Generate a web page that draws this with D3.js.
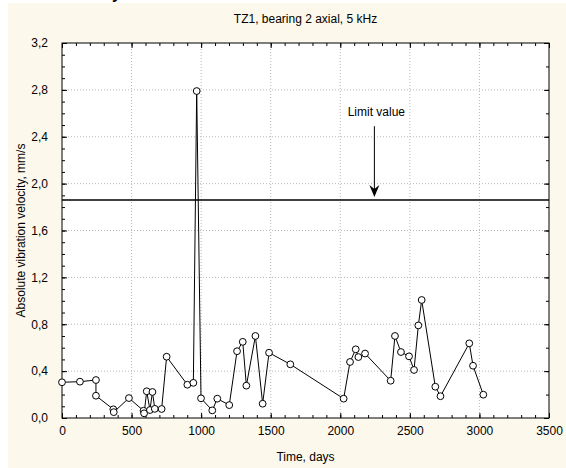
<!DOCTYPE html>
<html lang="en">
<head>
<meta charset="UTF-8">
<title>TZ1, bearing 2 axial, 5 kHz</title>
<script src="https://d3js.org/d3.v7.min.js"></script>
<style>
    body { margin: 0; background: #fff; }
    text { font-family: "Liberation Sans", Arial, sans-serif; fill: #000; }
    .tick text { font-size: 12px; }
    .axis path { display: none; }
    .axis line { stroke: #000; }
    .grid { stroke: #b8b8b8; stroke-dasharray: 1,2; }
</style>
</head>
<body>
<div id="chart"></div>
<script>
    // measured values (days, mm/s) in drawing order
    const days = [0, 129, 244, 244, 369, 372, 481, 586, 590, 609, 632, 650, 667, 716, 752,
                  901, 944, 968, 999, 1080, 1116, 1202, 1258, 1299, 1325, 1390, 1442, 1488,
                  1641, 2024, 2070, 2111, 2130, 2178, 2362, 2393, 2436, 2494, 2530, 2561,
                  2585, 2683, 2720, 2927, 2954, 3028];
    const velocity = [0.305, 0.31, 0.324, 0.19, 0.074, 0.05, 0.17, 0.062, 0.04, 0.228, 0.068,
                      0.222, 0.078, 0.077, 0.523, 0.284, 0.30, 2.79, 0.168, 0.065, 0.165, 0.11,
                      0.57, 0.65, 0.276, 0.70, 0.122, 0.557, 0.458, 0.165, 0.478, 0.586, 0.52,
                      0.55, 0.318, 0.70, 0.563, 0.526, 0.41, 0.79, 1.007, 0.267, 0.186, 0.637,
                      0.446, 0.199];
    const limitValue = 1.86;
    const limitArrowDay = 2245;
    const limitArrowTop = 2.49;
    const limitLabel = "Limit value";
    const xTicks = [0, 500, 1000, 1500, 2000, 2500, 3000, 3500];
    const yTicks = [0, 0.4, 0.8, 1.2, 1.6, 2.0, 2.4, 2.8, 3.2];

    const W = 566, H = 468;
    const m = { left: 62, right: 549, top: 43, bottom: 418 };

    const svg = d3.select("#chart").append("svg")
        .attr("width", W).attr("height", H);

    // cream page background
    svg.append("rect").attr("x", 8).attr("y", 3)
        .attr("width", W - 8).attr("height", H - 3).attr("fill", "#fdf8ec");
    // descender of cropped heading text above
    svg.append("text").attr("x", 112).attr("y", -1)
        .style("font-size", "16px").style("font-weight", "bold").text("y");

    const x = d3.scaleLinear().domain([0, 3500]).range([m.left, m.right]);
    const y = d3.scaleLinear().domain([0, 3.2]).range([m.bottom, m.top]);
    const fmt = d => d3.format(".1f")(d).replace(".", ",");

    svg.append("rect").attr("x", m.left).attr("y", m.top)
        .attr("width", m.right - m.left).attr("height", m.bottom - m.top).attr("fill", "#fff");

    // grid
    svg.append("g").selectAll("line").data(xTicks.slice(1, -1)).join("line")
        .attr("class", "grid").attr("x1", d => x(d)).attr("x2", d => x(d))
        .attr("y1", m.top).attr("y2", m.bottom);
    svg.append("g").selectAll("line").data(yTicks.slice(1, -1)).join("line")
        .attr("class", "grid").attr("y1", d => y(d)).attr("y2", d => y(d))
        .attr("x1", m.left).attr("x2", m.right);

    const minorX = d3.range(0, 3501, 100);
    const minorYLeft = d3.range(0, 33).map(i => i / 10);
    const minorYRight = d3.range(0, 17).map(i => i / 5);

    // bottom
    svg.append("g").attr("class", "axis").attr("transform", `translate(0,${m.bottom})`)
        .call(d3.axisBottom(x).tickValues(minorX).tickSize(-3).tickFormat(""));
    svg.append("g").attr("class", "axis").attr("transform", `translate(0,${m.bottom})`)
        .call(d3.axisBottom(x).tickValues(xTicks).tickSize(-5).tickPadding(8).tickFormat(d3.format("d")));
    // top
    svg.append("g").attr("class", "axis").attr("transform", `translate(0,${m.top})`)
        .call(d3.axisTop(x).tickValues(minorX).tickSize(-3).tickFormat(""));
    svg.append("g").attr("class", "axis").attr("transform", `translate(0,${m.top})`)
        .call(d3.axisTop(x).tickValues(xTicks).tickSize(-5).tickFormat(""));
    // left
    svg.append("g").attr("class", "axis").attr("transform", `translate(${m.left},0)`)
        .call(d3.axisLeft(y).tickValues(minorYLeft).tickSize(-3).tickFormat(""));
    svg.append("g").attr("class", "axis").attr("transform", `translate(${m.left},0)`)
        .call(d3.axisLeft(y).tickValues(yTicks).tickSize(-5).tickPadding(14).tickFormat(fmt));
    // right
    svg.append("g").attr("class", "axis").attr("transform", `translate(${m.right},0)`)
        .call(d3.axisRight(y).tickValues(minorYRight).tickSize(-3).tickFormat(""));
    svg.append("g").attr("class", "axis").attr("transform", `translate(${m.right},0)`)
        .call(d3.axisRight(y).tickValues(yTicks).tickSize(-5).tickFormat(""));

    svg.append("rect").attr("x", m.left).attr("y", m.top)
        .attr("width", m.right - m.left).attr("height", m.bottom - m.top)
        .attr("fill", "none").attr("stroke", "#000");

    // limit line and arrow
    svg.append("line").attr("x1", m.left).attr("x2", m.right)
        .attr("y1", y(limitValue)).attr("y2", y(limitValue))
        .attr("stroke", "#000").attr("stroke-width", 1.6);
    const ax = x(limitArrowDay), tip = y(limitValue) - 3;
    svg.append("line").attr("x1", ax).attr("x2", ax)
        .attr("y1", y(limitArrowTop)).attr("y2", tip - 6)
        .attr("stroke", "#000");
    svg.append("path")
        .attr("d", `M${ax},${tip} L${ax - 5},${tip - 12} L${ax},${tip - 8} L${ax + 5},${tip - 12} Z`)
        .attr("fill", "#000");
    svg.append("text").attr("x", ax + 2).attr("y", y(limitArrowTop) - 10)
        .attr("text-anchor", "middle").style("font-size", "12px").text(limitLabel);

    // series
    const pts = days.map((d, i) => [d, velocity[i]]);
    svg.append("path").datum(pts)
        .attr("fill", "none").attr("stroke", "#000").attr("stroke-width", 1)
        .attr("d", d3.line().x(d => x(d[0])).y(d => y(d[1])));
    svg.append("g").selectAll("circle").data(pts).join("circle")
        .attr("cx", d => x(d[0])).attr("cy", d => y(d[1])).attr("r", 3.4)
        .attr("fill", "#fff").attr("stroke", "#000");

    // titles
    svg.append("text").attr("x", (m.left + m.right) / 2).attr("y", 23)
        .attr("text-anchor", "middle").style("font-size", "12px")
        .text("TZ1, bearing 2 axial, 5 kHz");
    svg.append("text").attr("x", (m.left + m.right) / 2).attr("y", 461)
        .attr("text-anchor", "middle").style("font-size", "12px")
        .text("Time, days");
    svg.append("text")
        .attr("transform", `translate(25,${(m.top + m.bottom) / 2}) rotate(-90)`)
        .attr("text-anchor", "middle").style("font-size", "12px")
        .text("Absolute vibration velocity, mm/s");
</script>
</body>
</html>
